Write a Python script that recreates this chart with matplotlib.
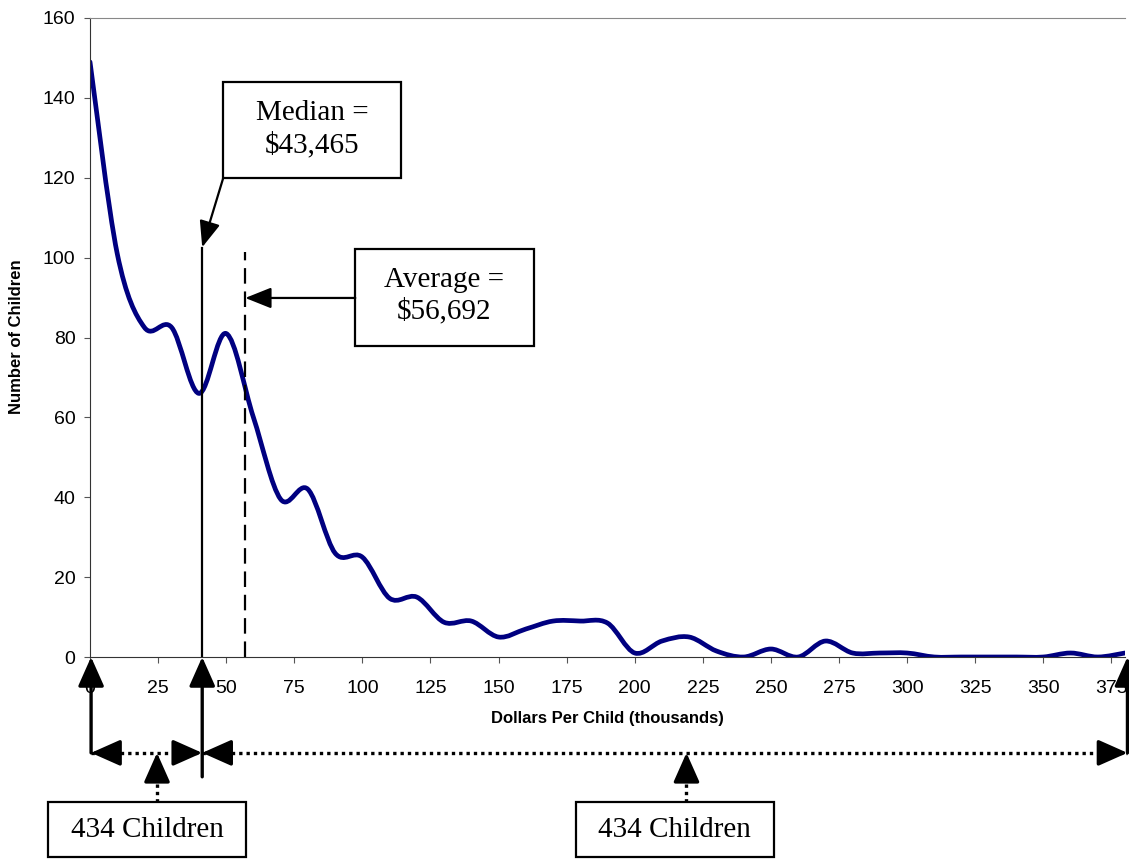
import matplotlib
matplotlib.use("Agg")
import matplotlib.pyplot as plt
from matplotlib.path import Path
from matplotlib.patches import PathPatch, Rectangle
import numpy as np

# distribution of children by dollars per child (thousands)
dollars = [0, 10, 20, 30, 40, 50, 60, 70, 80, 90, 100, 110, 120, 130, 140, 150,
           160, 170, 180, 190, 200, 210, 220, 230, 240, 250, 260, 270, 280, 290,
           300, 310, 320, 330, 340, 350, 360, 370, 380]
children = [149, 101, 82.5, 82.5, 66, 81, 60, 39.5, 42, 26, 25, 14.7, 15, 8.7, 9, 5,
            7, 9, 9, 8.5, 1, 4, 5, 1.5, 0, 2, 0, 4, 1, 1,
            1, 0, 0, 0, 0, 0, 1, 0, 1]

x_ticks = [0, 25, 50, 75, 100, 125, 150, 175, 200, 225, 250, 275, 300, 325, 350, 375]
y_ticks = [0, 20, 40, 60, 80, 100, 120, 140, 160]

median_label = "Median =\n$43,465"
average_label = "Average =\n$56,692"
group_label = "434 Children"
median_x = 41.2    # where the median line is drawn
average_x = 57.0   # where the average line is drawn

W, H = 1129, 859
fig = plt.figure(figsize=(W / 100, H / 100), dpi=100)
ax = fig.add_axes([90 / W, 1 - 657 / H, (1125 - 90) / W, (657 - 18) / H])


def smooth_path(xs, ys):
    # excel style smoothed line as cubic bezier segments
    pts = np.column_stack([xs, ys]).astype(float)
    ext = np.vstack([pts[0], pts, pts[-1]])
    verts = [pts[0]]
    codes = [Path.MOVETO]
    for i in range(len(pts) - 1):
        p0, p1, p2, p3 = ext[i], ext[i + 1], ext[i + 2], ext[i + 3]
        verts += [p1 + (p2 - p0) / 6, p2 - (p3 - p1) / 6, p2]
        codes += [Path.CURVE4] * 3
    return Path(verts, codes)


ax.add_patch(PathPatch(smooth_path(dollars, children), fill=False,
                       edgecolor="#000080", lw=3.4, capstyle="round", joinstyle="round"))

ax.set_xlim(0, 380)
ax.set_ylim(0, 160)
ax.set_xticks(x_ticks)
ax.set_yticks(y_ticks)
ax.tick_params(axis="x", direction="out", length=4.5, color="#555555", pad=12,
               labelsize=14)
ax.tick_params(axis="y", direction="out", length=4.5, color="#555555", pad=6,
               labelsize=14)
for lab in ax.get_xticklabels() + ax.get_yticklabels():
    lab.set_fontfamily("Liberation Sans")

ax.spines["right"].set_visible(False)
ax.spines["top"].set_color("#888888")
ax.spines["left"].set_color("#333333")
ax.spines["bottom"].set_color("#333333")

fig.text(17 / W, 1 - 337 / H, "Number of Children", rotation=90, ha="center", va="center",
         fontsize=12, fontweight="bold", family="Liberation Sans")
fig.text(607 / W, 1 - 719 / H, "Dollars Per Child (thousands)", ha="center", va="center",
         fontsize=12, fontweight="bold", family="Liberation Sans")

# median and average lines
ax.plot([median_x, median_x], [0, 102.4], color="black", lw=1.6)
ax.plot([average_x, average_x], [0, 101.5], color="black", lw=1.6, dashes=(7, 3.5))

serif = dict(family="Liberation Serif", fontsize=21, ha="center", va="center",
             linespacing=1.25)
box = dict(fill=False, edgecolor="black", lw=1.6, clip_on=False)

ax.add_patch(Rectangle((48.9, 119.9), 114.3 - 48.9, 144.0 - 119.9, **box))
ax.text(81.6, 132.2, median_label, **serif)
ax.add_patch(Rectangle((97.4, 77.9), 162.9 - 97.4, 102.2 - 77.9, **box))
ax.text(130.1, 90.4, average_label, **serif)

head = "-|>,head_length=0.8,head_width=0.32"
ax.annotate("", xy=(median_x, 102.6), xytext=(48.9, 119.9),
            arrowprops=dict(arrowstyle=head, color="black", lw=1.6, mutation_scale=20,
                            shrinkA=0, shrinkB=0), annotation_clip=False)
ax.annotate("", xy=(average_x, 89.9), xytext=(97.4, 89.9),
            arrowprops=dict(arrowstyle=head, color="black", lw=1.6, mutation_scale=20,
                            shrinkA=0, shrinkB=0), annotation_clip=False)

# brackets below the axis
big = "-|>,head_length=0.9,head_width=0.4"
solid = dict(arrowstyle=big, color="black", lw=2.4, mutation_scale=20, shrinkA=0, shrinkB=0)
for x0, y0 in [(0.4, -24.0), (median_x, -30.0), (380.9, -24.0)]:
    ax.annotate("", xy=(x0, 0), xytext=(x0, y0), arrowprops=solid, annotation_clip=False)

y_dot = -24.0
for xa, xb in [(0.4, median_x), (median_x, 380.9)]:
    ax.plot([xa, xb], [y_dot, y_dot], color="black", lw=2.4, linestyle=(0, (1, 1.2)),
            clip_on=False)
    tip = 8.5
    ax.annotate("", xy=(xa, y_dot), xytext=(xa + tip, y_dot), arrowprops=solid,
                annotation_clip=False)
    ax.annotate("", xy=(xb, y_dot), xytext=(xb - tip, y_dot), arrowprops=solid,
                annotation_clip=False)

for xc in [24.6, 219.0]:
    ax.plot([xc, xc], [-36.3, -28.0], color="black", lw=2.4, linestyle=(0, (1, 1.2)),
            clip_on=False)
    ax.annotate("", xy=(xc, y_dot), xytext=(xc, y_dot - 5.8), arrowprops=solid,
                annotation_clip=False)

for x_left, x_right in [(-15.4, 57.4), (178.3, 251.1)]:
    ax.add_patch(Rectangle((x_left, -50.1), x_right - x_left, 13.8, **box))
    ax.text((x_left + x_right) / 2, -43.4, group_label, **serif)

fig.savefig("out.png", dpi=100)
